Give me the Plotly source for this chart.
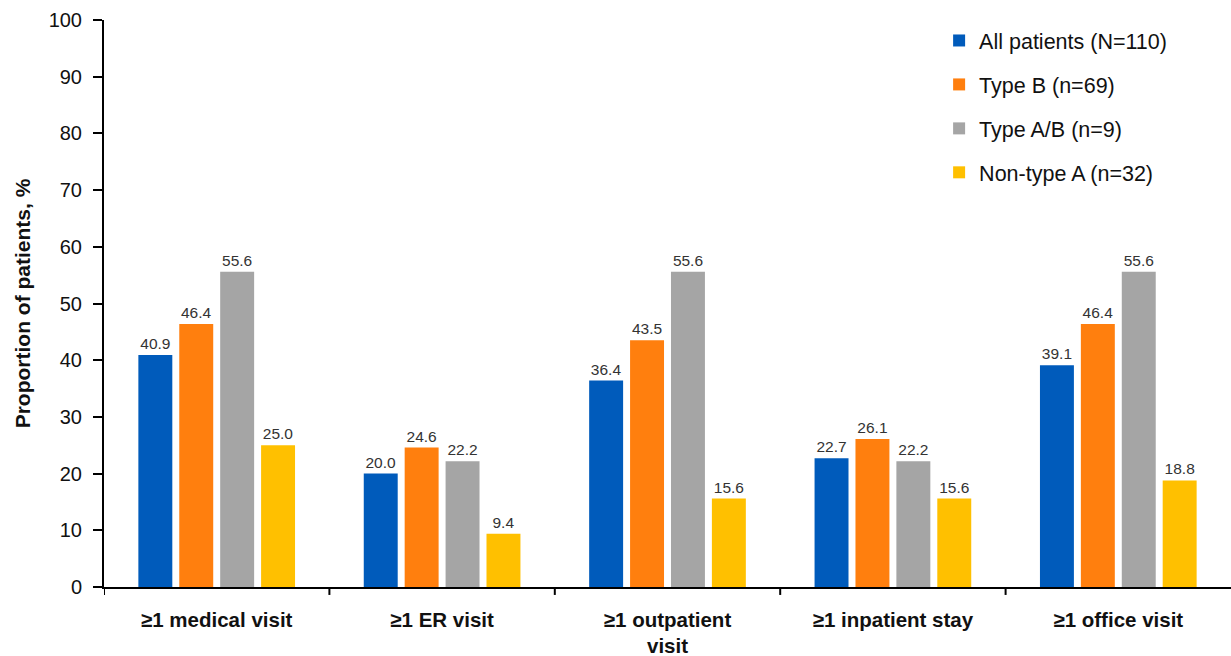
import plotly.graph_objects as go

categories = ["≥1 medical visit", "≥1 ER visit", "≥1 outpatient<br>visit", "≥1 inpatient stay", "≥1 office visit"]
series_names = ["All patients (N=110)", "Type B (n=69)", "Type A/B (n=9)", "Non-type A (n=32)"]
all_patients = [40.9, 20.0, 36.4, 22.7, 39.1]
type_b = [46.4, 24.6, 43.5, 26.1, 46.4]
type_ab = [55.6, 22.2, 55.6, 22.2, 55.6]
non_type_a = [25.0, 9.4, 15.6, 15.6, 18.8]
colors = ["#005BBB", "#FF7F0E", "#A5A5A5", "#FFC000"]
y_ticks = [0, 10, 20, 30, 40, 50, 60, 70, 80, 90, 100]

fig = go.Figure()
xpos = list(range(len(categories)))
for i, (name, vals) in enumerate(zip(series_names, [all_patients, type_b, type_ab, non_type_a])):
    fig.add_trace(go.Bar(
        x=xpos, y=vals, name=name, legendgroup=name,
        marker=dict(color=colors[i], line=dict(width=0)),
        text=[f"{v:.1f}" for v in vals], textposition="outside",
        textfont=dict(family="Arial, Liberation Sans", size=15.5, color="#333333"),
        cliponaxis=False,
    ))

fig.update_layout(
    width=1231, height=656,
    margin=dict(l=104, r=0, t=20, b=69),
    paper_bgcolor="white", plot_bgcolor="white",
    barmode="group", bargap=0.274, bargroupgap=0.17,
    font=dict(family="Arial, Liberation Sans", color="#111111"),
    legend=dict(x=0.741, y=1.0, xanchor="left", yanchor="top",
                font=dict(size=21.5, color="#111111"), tracegroupgap=13,
                bgcolor="rgba(0,0,0,0)"),
    xaxis=dict(
        range=[-0.5, 4.5], tickmode="array", tickvals=xpos, ticktext=["<b>%s</b>" % c for c in categories],
        tickfont=dict(size=20.5, color="#111111"), ticks="", showline=True, linecolor="black", linewidth=2,
        showgrid=False, zeroline=False, ticklabelstandoff=13,
    ),
    yaxis=dict(
        range=[0, 100], tickvals=y_ticks, tickfont=dict(size=20, color="#111111"),
        ticks="outside", ticklen=9, tickwidth=2, tickcolor="black", ticklabelstandoff=7,
        showline=True, linecolor="black", linewidth=2, showgrid=False, zeroline=False,
        title=dict(text="<b>Proportion of patients, %</b>", font=dict(size=21, color="#111111"), standoff=12),
    ),
)

# category separator ticks on the x axis
for b in [-0.5, 0.5, 1.5, 2.5, 3.5]:
    fig.add_shape(type="line", xref="x", yref="paper", x0=b, x1=b, y0=0, y1=-0.014,
                  line=dict(color="black", width=2))

fig.write_html("out.html")
